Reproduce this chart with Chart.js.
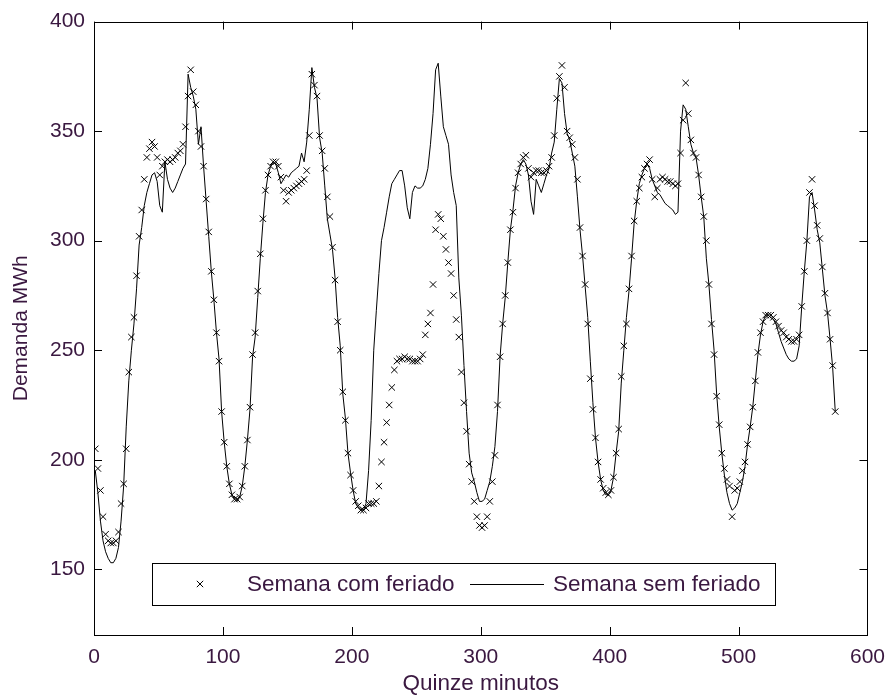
<!DOCTYPE html>
<html>
<head>
<meta charset="utf-8">
<script src="https://cdn.jsdelivr.net/npm/chart.js@4.4.1/dist/chart.umd.min.js"></script>
<style>
	body { margin: 0; background: #fff; }
	canvas { display: block; }
</style>
</head>
<body>
<canvas id="demanda" width="895" height="697"></canvas>
<script>
// indice do quarto de hora (amostrado a cada 2 pontos)
var quinze = [];
for (var q = 1; q <= 575; q += 2) quinze.push(q);

var xTicks = [0, 100, 200, 300, 400, 500, 600];
var yTicks = [150, 200, 250, 300, 350, 400];

// Semana com feriado (marcadores x)
var comFeriado = [
	205,196,186,174,166,163,162,162,163,167,180,189,205,240,256,265,284,302,314,328,338,342,345,343,
	338,330,334,336,337,336,337,338,340,341,344,352,366,378,368,362,350,343,334,319,304,286,273,258,
	245,222,208,197,189,184,182,182,183,188,197,209,224,248,258,277,294,310,323,330,334,336,336,334,
	329,323,318,322,323,324,325,326,327,328,332,348,376,371,366,348,341,333,320,311,297,282,263,250,
	231,218,203,193,186,181,179,177,177,178,180,180,180,181,188,199,208,217,225,233,241,245,246,246,
	247,246,246,245,245,245,246,248,257,262,267,280,305,312,310,302,296,290,285,275,264,256,240,226,
	213,198,190,181,174,170,169,170,174,181,190,202,225,247,262,275,290,305,313,324,331,335,338,339,
	333,329,331,332,332,331,331,332,334,338,348,365,375,380,370,350,347,344,338,328,306,293,280,262,
	237,223,210,199,191,187,185,184,186,192,203,214,238,252,262,278,293,309,318,324,329,333,335,337,
	328,320,324,328,329,328,327,327,326,325,326,340,355,372,358,346,340,338,330,320,311,300,280,262,
	248,229,216,203,196,191,188,174,186,187,190,195,199,207,215,224,236,249,258,263,266,266,266,265,
	263,261,259,258,256,255,254,254,255,257,270,286,300,322,328,316,307,301,288,276,267,255,243,222
];

// Semana sem feriado (linha)
var semFeriado = [
	195,185,172,163,158,155,153,153,155,160,172,188,215,236,250,262,278,298,306,316,322,326,330,331,
	327,316,313,336,328,324,322,324,327,330,333,335,376,370,366,360,344,352,334,318,302,286,273,258,
	246,222,208,197,189,184,182,181,183,188,197,209,223,247,256,274,292,308,322,330,334,336,335,331,
	326,328,330,329,331,332,333,334,340,336,345,360,379,370,365,347,340,325,310,303,296,283,265,252,
	230,219,203,194,186,180,178,177,177,180,195,218,250,268,285,300,306,313,320,326,328,330,332,332,
	325,315,310,322,325,324,324,325,328,333,344,358,378,381,366,352,348,344,330,322,316,283,266,243,
	222,203,194,190,185,181,181,182,186,190,197,206,222,247,262,274,290,305,314,325,331,335,337,335,
	330,318,312,328,325,322,326,330,333,340,345,360,374,372,358,349,346,340,334,320,305,293,279,265,
	245,226,210,199,191,186,184,184,186,192,203,213,235,250,265,277,292,308,318,326,330,333,335,333,
	328,325,322,321,319,317,316,315,314,312,313,350,362,360,352,344,340,338,330,320,311,292,280,264,
	250,230,215,203,193,185,180,177,178,180,185,190,197,207,215,224,236,248,257,263,266,266,265,264,
	262,258,254,251,248,246,245,245,246,252,270,286,300,320,322,314,305,299,287,275,267,255,242,222
];

var textColor = '#3a1840';
var fontFamily = "'Liberation Sans', Arial, sans-serif";

function pares(valores) {
	return quinze.map(function (x, k) { return { x: x, y: valores[k] }; });
}

// moldura com ticks para dentro e legenda dentro do grafico
var moldura = {
	id: 'moldura',
	afterDraw: function (chart) {
		var ctx = chart.ctx, a = chart.chartArea;
		var sx = chart.scales.x, sy = chart.scales.y;
		ctx.save();
		ctx.strokeStyle = '#000';
		ctx.lineWidth = 1;
		ctx.beginPath();
		xTicks.forEach(function (v) {
			var px = Math.round(sx.getPixelForValue(v)) + 0.5;
			ctx.moveTo(px, a.bottom); ctx.lineTo(px, a.bottom - 8);
			ctx.moveTo(px, a.top); ctx.lineTo(px, a.top + 8);
		});
		yTicks.forEach(function (v) {
			var py = Math.round(sy.getPixelForValue(v)) + 0.5;
			ctx.moveTo(a.left, py); ctx.lineTo(a.left + 8, py);
			ctx.moveTo(a.right, py); ctx.lineTo(a.right - 8, py);
		});
		ctx.stroke();
		ctx.strokeRect(Math.round(a.left) + 0.5, Math.round(a.top) + 0.5,
			Math.round(a.right - a.left), Math.round(a.bottom - a.top));

		// legenda
		var bx = 152, by = 563, bw = 623, bh = 42, cy = by + bh / 2;
		ctx.fillStyle = '#fff';
		ctx.fillRect(bx, by, bw, bh);
		ctx.strokeRect(bx + 0.5, by + 0.5, bw, bh);
		Chart.helpers.drawPoint(ctx, { pointStyle: 'crossRot', radius: 4.5, borderWidth: 1 }, 200, cy);
		ctx.beginPath();
		ctx.moveTo(470, Math.round(cy) + 0.5);
		ctx.lineTo(544, Math.round(cy) + 0.5);
		ctx.stroke();
		ctx.fillStyle = textColor;
		ctx.font = '22.5px ' + fontFamily;
		ctx.textBaseline = 'middle';
		ctx.textAlign = 'left';
		ctx.fillText('Semana com feriado', 247, cy + 1);
		ctx.fillText('Semana sem feriado', 553, cy + 1);
		ctx.restore();
	}
};

Chart.defaults.font.family = fontFamily;
Chart.defaults.font.size = 21;
Chart.defaults.color = textColor;

new Chart(document.getElementById('demanda'), {
	type: 'line',
	data: {
		datasets: [
			{
				label: 'Semana com feriado',
				data: pares(comFeriado),
				showLine: false,
				pointStyle: 'crossRot',
				pointRadius: 4.5,
				pointBorderWidth: 1,
				borderColor: '#000',
				backgroundColor: '#000',
				order: 2
			}, {
				label: 'Semana sem feriado',
				data: pares(semFeriado),
				borderColor: '#000',
				borderWidth: 1,
				pointRadius: 0,
				tension: 0,
				fill: false,
				order: 1
			}
		]
	},
	options: {
		responsive: false,
		animation: false,
		devicePixelRatio: 1,
		layout: { padding: { top: 20, right: 22, left: 0, bottom: 0 } },
		plugins: {
			legend: { display: false },
			tooltip: { enabled: false }
		},
		scales: {
			x: {
				type: 'linear',
				min: 0,
				max: 600,
				grid: { display: false, drawTicks: false },
				border: { display: false },
				ticks: { padding: 10, maxRotation: 0 },
				afterBuildTicks: function (s) { s.ticks = xTicks.map(function (v) { return { value: v }; }); },
				afterFit: function (s) { s.height = 62; },
				title: { display: true, text: 'Quinze minutos', font: { size: 22.5 }, padding: { top: 5, bottom: 0 } }
			},
			y: {
				type: 'linear',
				min: 120,
				max: 400,
				grid: { display: false, drawTicks: false },
				border: { display: false },
				ticks: { padding: 9 },
				afterBuildTicks: function (s) { s.ticks = yTicks.map(function (v) { return { value: v }; }); },
				afterFit: function (s) { s.width = 94; },
				title: { display: true, text: 'Demanda MWh', padding: { top: 9, bottom: 0 } }
			}
		}
	},
	plugins: [moldura]
});
</script>
</body>
</html>
